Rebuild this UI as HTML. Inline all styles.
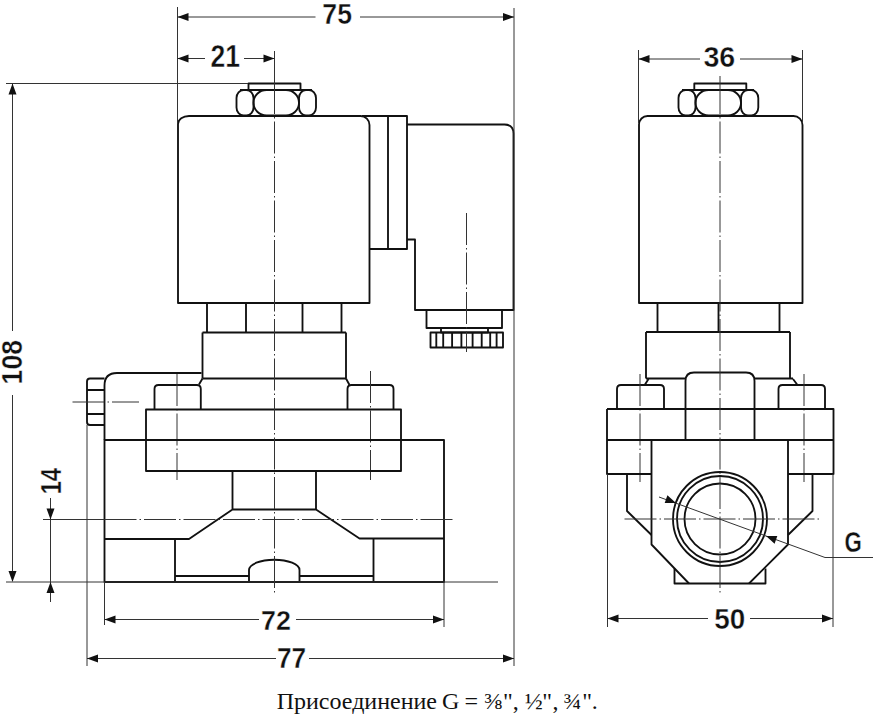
<!DOCTYPE html>
<html><head><meta charset="utf-8">
<style>
html,body{margin:0;padding:0;background:#fff;}
body{width:878px;height:716px;overflow:hidden;}
svg{display:block;}
.k{fill:none;stroke:#111;stroke-width:1.85;stroke-linejoin:round;stroke-linecap:butt;}
.t{fill:none;stroke:#333;stroke-width:1;}
.c{fill:none;stroke:#333;stroke-width:1;stroke-dasharray:32 3 1.5 3;}
.a{fill:#111;stroke:none;}
.d{font-family:"Liberation Sans",sans-serif;font-weight:bold;font-size:30px;fill:#111;stroke:#fff;stroke-width:0.4;}
.cap{font-family:"Liberation Serif",serif;font-size:24px;fill:#111;}
</style></head>
<body>
<svg width="878" height="716" viewBox="0 0 878 716">

<!-- ================= LEFT VIEW ================= -->
<!-- nut -->
<rect class="k" x="248.5" y="83.5" width="52" height="6.5" stroke-width="1.6"/>
<rect class="k" x="236.5" y="90" width="17" height="25.5" rx="7" ry="8" stroke-width="1.6"/>
<rect class="k" x="253.5" y="90" width="45.5" height="25.5" rx="13" ry="12.75" stroke-width="1.6"/>
<rect class="k" x="299" y="90" width="17" height="25.5" rx="7" ry="8" stroke-width="1.6"/>
<line class="k" x1="240" y1="90" x2="312" y2="90" stroke-width="1.6"/>

<!-- coil -->
<path class="k" d="M178,303 V124 A11,8 0 0 1 189,116 H360.5 A9,9 0 0 1 369.5,125 V303 Z"/>
<!-- connector plate -->
<path class="k" d="M362,116 H407 V249 H369.5 M388,116 V249"/>
<!-- connector housing -->
<path class="k" d="M407,124.5 H504.5 Q513.5,124.5 513.5,133.5 V310 H415 V239.5 H407"/>
<!-- cable gland -->
<rect class="k" x="426.5" y="310" width="75.5" height="18"/>
<rect class="k" x="441" y="328" width="47" height="4.5"/>
<rect class="k" x="430.5" y="332.5" width="72.5" height="15"/>
<path class="k" d="M436.3,332.5 V347.5 M443.2,332.5 V347.5 M452.1,332.5 V347.5 M461.4,332.5 V347.5 M472.6,332.5 V347.5 M481.7,332.5 V347.5 M490.2,332.5 V347.5 M496.6,332.5 V347.5" stroke-width="1.5"/>
<line class="c" x1="466.5" y1="213" x2="466.5" y2="352"/>

<!-- tube under coil -->
<path class="k" d="M207,303 V332.5 M246,303 V332.5 M302.5,303 V332.5 M341.5,303 V332.5"/>
<!-- armature housing -->
<path class="k" d="M202.5,332.5 H346 M202.5,332.5 V378.5 M346,332.5 V378.5 M202.5,378.5 H346"/>
<path class="k" d="M202.5,378.5 L199,384.5 M346,378.5 L349.5,385" stroke-width="1.6"/>
<!-- bolts -->
<path class="k" d="M154.5,409 V389 Q154.5,385 158.5,385 H196.8 Q200.8,385 200.8,389 V409"/>
<path class="k" d="M347.5,409 V389 Q347.5,385 351.5,385 H389.5 Q393.5,385 393.5,389 V409"/>
<line class="c" x1="177" y1="374" x2="177" y2="480"/>
<line class="c" x1="370.5" y1="371" x2="370.5" y2="480"/>
<!-- side plug -->
<path class="k" d="M201.5,373 H117 Q104.5,373 104.5,385.5 V440"/>
<path class="k" d="M104.5,378.5 H90 Q87,378.5 87,381.5 V422 Q87,425 90,425 H104.5 M87,390 H104.5 M87,414 H104.5"/>
<line class="c" x1="72.5" y1="402" x2="139" y2="402" stroke-dasharray="28 4 2 4"/>
<!-- flange -->
<rect class="k" x="146" y="409.5" width="255" height="61.5"/>
<!-- body -->
<path class="k" d="M104.5,440 H444 V582 H104.5 Z"/>
<path class="k" d="M232.5,471 V509.5 H316 V471 M232.5,509.5 L189,539 H104.5 M316,509.5 L359.5,538.5 H444 M175,539 V582 M373.5,538.5 V582"/>
<path class="k" d="M175,576 H249 M299.5,576 H373.5 M249,582 V570 A25.25,10.3 0 0 1 299.5,570 V582"/>

<!-- centre lines -->
<line class="t" x1="274.5" y1="51" x2="274.5" y2="82"/>
<line class="c" x1="274.5" y1="82" x2="274.5" y2="594"/>
<line class="t" x1="43" y1="519.5" x2="104.5" y2="519.5"/>
<line class="c" x1="104.5" y1="519.5" x2="454" y2="519.5"/>

<!-- extension lines -->
<line class="t" x1="177.5" y1="7" x2="177.5" y2="123"/>
<line class="t" x1="514" y1="8" x2="514" y2="666"/>
<line class="t" x1="6" y1="83.5" x2="248" y2="83.5"/>
<line class="t" x1="6" y1="582" x2="498" y2="582"/>
<line class="t" x1="104.5" y1="582" x2="104.5" y2="625"/>
<line class="t" x1="444" y1="582" x2="444" y2="627"/>
<line class="t" x1="87" y1="425" x2="87" y2="666"/>

<!-- dim 75 -->
<line class="t" x1="178" y1="17" x2="315.5" y2="17"/>
<line class="t" x1="360" y1="17" x2="514" y2="17"/>
<path class="a" d="M177.5,17 l11,-4 v8 z M514,17 l-11,-4 v8 z"/>
<text class="d" transform="matrix(0.8878,0,0,1.0048,322.35,23.90)">75</text>
<!-- dim 21 -->
<line class="t" x1="178" y1="58.5" x2="205" y2="58.5"/>
<line class="t" x1="244" y1="58.5" x2="274" y2="58.5"/>
<path class="a" d="M177.5,58.5 l11,-4 v8 z M274.5,58.5 l-11,-4 v8 z"/>
<text class="d" transform="matrix(0.8857,0,0,1.0239,210.51,66.80)">21</text>
<!-- dim 108 -->
<line class="t" x1="12.5" y1="84" x2="12.5" y2="331"/>
<line class="t" x1="12.5" y1="395" x2="12.5" y2="581"/>
<path class="a" d="M12.5,83.5 l-4,11 h8 z M12.5,582 l-4,-11 h8 z"/>
<text class="d" transform="matrix(0,-0.8856,0.9623,0,22.41,384.38)">108</text>
<!-- dim 14 -->
<line class="t" x1="50.5" y1="498" x2="50.5" y2="602"/>
<path class="a" d="M50.5,519.5 l-4,-11 h8 z M50.5,582 l-4,11 h8 z"/>
<text class="d" transform="matrix(0,-0.8019,1.0048,0,60.80,494.52)">14</text>
<!-- dim 72 -->
<line class="t" x1="105" y1="619.5" x2="259" y2="619.5"/>
<line class="t" x1="296" y1="619.5" x2="444" y2="619.5"/>
<path class="a" d="M104.5,619.5 l11,-4 v8 z M444,619.5 l-11,-4 v8 z"/>
<text class="d" transform="matrix(0.8964,0,0,0.9474,261.03,629.80)">72</text>
<!-- dim 77 -->
<line class="t" x1="87" y1="658.5" x2="276" y2="658.5"/>
<line class="t" x1="309" y1="658.5" x2="514" y2="658.5"/>
<path class="a" d="M87,658.5 l11,-4 v8 z M514,658.5 l-11,-4 v8 z"/>
<text class="d" transform="matrix(0.8734,0,0,0.9807,277.06,668.10)">77</text>

<!-- ================= RIGHT VIEW ================= -->
<!-- nut -->
<rect class="k" x="694.3" y="83.5" width="52" height="6.5" stroke-width="1.6"/>
<rect class="k" x="678.5" y="90" width="17" height="25.5" rx="7" ry="8" stroke-width="1.6"/>
<rect class="k" x="695.5" y="90" width="45.5" height="25.5" rx="13" ry="12.75" stroke-width="1.6"/>
<rect class="k" x="741" y="90" width="17.3" height="25.5" rx="7" ry="8" stroke-width="1.6"/>
<line class="k" x1="682" y1="90" x2="754" y2="90" stroke-width="1.6"/>
<!-- coil -->
<path class="k" d="M639,303 V124.5 A8.5,8.5 0 0 1 647.5,116 H793.5 A9,9 0 0 1 802.5,125 V303 Z"/>
<!-- tube -->
<path class="k" d="M657.5,303 V332 M779.5,303 V332"/>
<line class="k" x1="718.5" y1="303" x2="718.5" y2="332" stroke-width="2.6"/>
<!-- armature housing -->
<path class="k" d="M646,332 H790 M646,332 V378.5 M790,332 V378.5 M646,378.5 H686 M754,378.5 H793"/>
<path class="k" d="M648.5,379 L645,384.5 M793,379 L797.5,385" stroke-width="1.6"/>
<!-- central boss -->
<path class="k" d="M685.5,440 V381 Q685.5,372.5 694,372.5 H746 Q754.5,372.5 754.5,381 V440"/>
<!-- bolts -->
<path class="k" d="M617,409 V389 Q617,385 621,385 H660 Q664,385 664,389 V409"/>
<path class="k" d="M778.5,409 V389 Q778.5,385 782.5,385 H821 Q825,385 825,389 V409"/>
<line class="c" x1="640" y1="374" x2="640" y2="482"/>
<line class="c" x1="804" y1="374" x2="804" y2="482"/>
<!-- flange -->
<path class="k" d="M607,409 H833.5 V474 H788 M607,409 V474 H651.5 M607,440 H833.5"/>
<!-- body -->
<path class="k" d="M651.5,440 V544.5 L689,583.5 M788,440 V544.5 L749,583.5"/>
<path class="k" d="M674.5,568.4 V583.5 H765.5 V568.4"/>
<path class="k" d="M627,474 V511 L651.5,535 M812.5,474 V511 L788,535"/>
<!-- circles -->
<circle class="k" cx="720" cy="519" r="47"/>
<circle class="k" cx="720" cy="519" r="43" stroke-width="1.6"/>
<circle class="k" cx="720" cy="519" r="35.5"/>
<!-- centre lines -->
<line class="t" x1="720" y1="76" x2="720" y2="82"/>
<line class="c" x1="720" y1="82" x2="720" y2="594"/>
<line class="c" x1="624.5" y1="519" x2="819" y2="519"/>
<!-- G leader -->
<path class="t" d="M659,497 L825,557.5 H873"/>
<path class="a" d="M676,503 l-11.3,-0.1 l2.7,-7.6 z"/>
<path class="a" d="M766,536 l11.3,0.1 l-2.7,7.6 z"/>
<text class="d" transform="matrix(0.7438,0,0,0.9764,844.41,551.51)">G</text>

<!-- dim 36 -->
<line class="t" x1="638.5" y1="50" x2="638.5" y2="123"/>
<line class="t" x1="802.5" y1="50" x2="802.5" y2="122"/>
<line class="t" x1="639" y1="59" x2="700" y2="59"/>
<line class="t" x1="740" y1="59" x2="802" y2="59"/>
<path class="a" d="M638.5,59 l11,-4 v8 z M802.5,59 l-11,-4 v8 z"/>
<text class="d" transform="matrix(0.9557,0,0,0.9953,703.43,66.50)">36</text>
<!-- dim 50 -->
<line class="t" x1="607.5" y1="474" x2="607.5" y2="627"/>
<line class="t" x1="833" y1="474" x2="833" y2="627"/>
<line class="t" x1="608" y1="618.5" x2="708" y2="618.5"/>
<line class="t" x1="750" y1="618.5" x2="833" y2="618.5"/>
<path class="a" d="M607.5,618.5 l11,-4 v8 z M833,618.5 l-11,-4 v8 z"/>
<text class="d" transform="matrix(0.9295,0,0,0.9811,714.16,629.21)">50</text>

<!-- caption -->
<text class="cap" x="276.68" y="709">Присоединение</text><text class="cap" x="442.04" y="709">G</text><text class="cap" x="464.60" y="709">=</text><text class="cap" x="484.04" y="709">⅜</text><text class="cap" x="502.88" y="709">"</text><text class="cap" x="512.82" y="709">,</text><text class="cap" x="524.80" y="709">½</text><text class="cap" x="542.28" y="709">"</text><text class="cap" x="552.62" y="709">,</text><text class="cap" x="563.52" y="709">¾</text><text class="cap" x="582.18" y="709">"</text><text class="cap" x="591.80" y="709">.</text>
</svg>
</body></html>
